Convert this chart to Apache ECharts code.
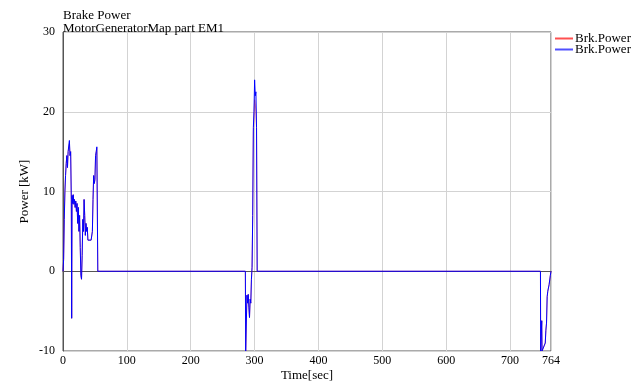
<!DOCTYPE html>
<html>
<head>
<meta charset="utf-8">
<script src="https://cdn.jsdelivr.net/npm/echarts@6/dist/echarts.min.js"></script>
<style>
  html, body { margin: 0; padding: 0; background: #fff; }
  #chart { width: 640px; height: 383px; }
</style>
</head>
<body>
<div id="chart"></div>
<script>
// time stamps [sec], shared by both traces
const timeSec = [
  0, 1, 2, 3, 4, 5, 6, 7, 8, 9, 10, 11, 12, 13, 13.6, 14.2, 15, 16, 17, 18, 19, 20,
  21, 22, 23, 24, 25, 26, 27, 28, 29, 30, 31, 32, 33, 34, 35, 36, 37, 38, 39, 44,
  45, 46, 47, 48, 49, 50, 51, 52, 53, 54, 54.5,
  285.5, 286, 287, 288, 289, 290, 291, 292, 293, 294, 295, 296, 297, 298, 299, 300,
  301, 302, 303, 304,
  747.5, 747.8, 749, 749.5, 750, 753, 755, 756, 757, 758, 759, 761, 763, 764
];
// Brk.Power (red, underneath)
const brkPowerRed = [
  0, 1.5, 6.5, 10, 12, 13.5, 14.5, 13, 15, 14.8, 16, 14.5, 15, 9, -5.9, 9.5, 8.5, 9.6, 8.4, 9, 8, 8.8,
  7.5, 8.5, 6, 8, 5, 7, 3, -0.5, -1, 2, 6.5, 5, 9, 7, 4.5, 6, 5, 5.5, 3.9, 3.9,
  4, 5, 9, 12, 11, 11.5, 14.5, 15, 15.4, 15.5, 0,
  0, -10, -10, -3, -4, -2.9, -4.5, -5.8, -3.5, -4, -1, 0.5, 7, 17.5, 19.5, 21.5,
  21, 20, 18, 0,
  0, -10, -10, -6.2, -10, -10, -9, -7.4, -6.5, -3.2, -2.5, -1.7, -0.5, 0
];
// Brk.Power (blue, on top)
const brkPowerBlue = [
  0, 1.5, 6.5, 10, 12, 13.5, 14.5, 13, 15, 14.8, 16.4, 14.5, 15, 9, -5.9, 9.5, 8.5, 9.6, 8.4, 9, 8, 8.8,
  7.5, 8.5, 6, 8, 5, 7, 3, -0.5, -1, 2, 6.5, 5, 9, 7, 4.5, 6, 5, 5.5, 3.9, 3.9,
  4, 5, 9, 12, 11, 11.5, 14.5, 15, 15.6, 15.5, 0,
  0, -10, -10, -3, -4, -2.9, -4.5, -5.8, -3.5, -4, -1, 0.5, 7, 18, 20, 24,
  22, 22.5, 18, 0,
  0, -10, -10, -6.2, -10, -10, -9, -7.4, -6.5, -3.2, -2.5, -1.7, -0.5, 0
];

const font = 'Liberation Serif';
const chart = echarts.init(document.getElementById('chart'));

chart.setOption({
  animation: false,
  title: {
    text: 'Brake Power',
    subtext: 'MotorGeneratorMap part EM1',
    left: 63,
    top: 10,
    itemGap: 0,
    padding: 0,
    textStyle: { fontFamily: font, fontSize: 13, fontWeight: 'normal', color: '#000', lineHeight: 12 },
    subtextStyle: { fontFamily: font, fontSize: 13, color: '#000', lineHeight: 12 }
  },
  legend: {
    orient: 'vertical',
    left: 555,
    top: 32,
    icon: 'rect',
    itemWidth: 18,
    itemHeight: 2,
    itemGap: -2,
    padding: 0,
    data: [
      { name: 'Brk.Power red', itemStyle: { color: '#ff5050' } },
      { name: 'Brk.Power blue', itemStyle: { color: '#5050ff' } }
    ],
    formatter: () => 'Brk.Power',
    textStyle: { fontFamily: font, fontSize: 13, color: '#000', lineHeight: 11, padding: [0, 0, 0, -3] }
  },
  grid: {
    left: 63,
    right: 89,
    top: 32,
    bottom: 32,
    outerBoundsMode: 'none',
    show: true,
    borderColor: '#555',
    borderWidth: 1
  },
  xAxis: {
    type: 'value',
    min: 0,
    max: 764,
    interval: 100,
    name: 'Time[sec]',
    nameLocation: 'middle',
    nameGap: 18,
    nameMoveOverlap: false,
    nameTextStyle: { fontFamily: font, fontSize: 13, color: '#000' },
    axisLine: { lineStyle: { color: '#555' } },
    axisTick: { show: false },
    axisLabel: { fontFamily: font, fontSize: 12, color: '#000', margin: 4 },
    splitLine: { lineStyle: { color: '#d3d3d3' } }
  },
  yAxis: {
    type: 'value',
    min: -10,
    max: 30,
    interval: 10,
    name: 'Power [kW]',
    nameLocation: 'middle',
    nameGap: 32,
    nameMoveOverlap: false,
    nameTextStyle: { fontFamily: font, fontSize: 13, color: '#000' },
    axisLine: { show: true, lineStyle: { color: '#555' } },
    axisTick: { show: false },
    axisLabel: { fontFamily: font, fontSize: 12, color: '#000', margin: 8 },
    splitLine: { lineStyle: { color: '#d3d3d3' } }
  },
  series: [
    {
      name: 'Brk.Power red',
      type: 'line',
      symbol: 'none',
      lineStyle: { color: '#ff0000', width: 1, opacity: 0.5 },
      itemStyle: { color: '#ff0000' },
      data: timeSec.map((t, i) => [t, brkPowerRed[i]])
    },
    {
      name: 'Brk.Power blue',
      type: 'line',
      symbol: 'none',
      lineStyle: { color: '#0000ff', width: 1 },
      itemStyle: { color: '#0000ff' },
      data: timeSec.map((t, i) => [t, brkPowerBlue[i]])
    }
  ]
});
</script>
</body>
</html>
